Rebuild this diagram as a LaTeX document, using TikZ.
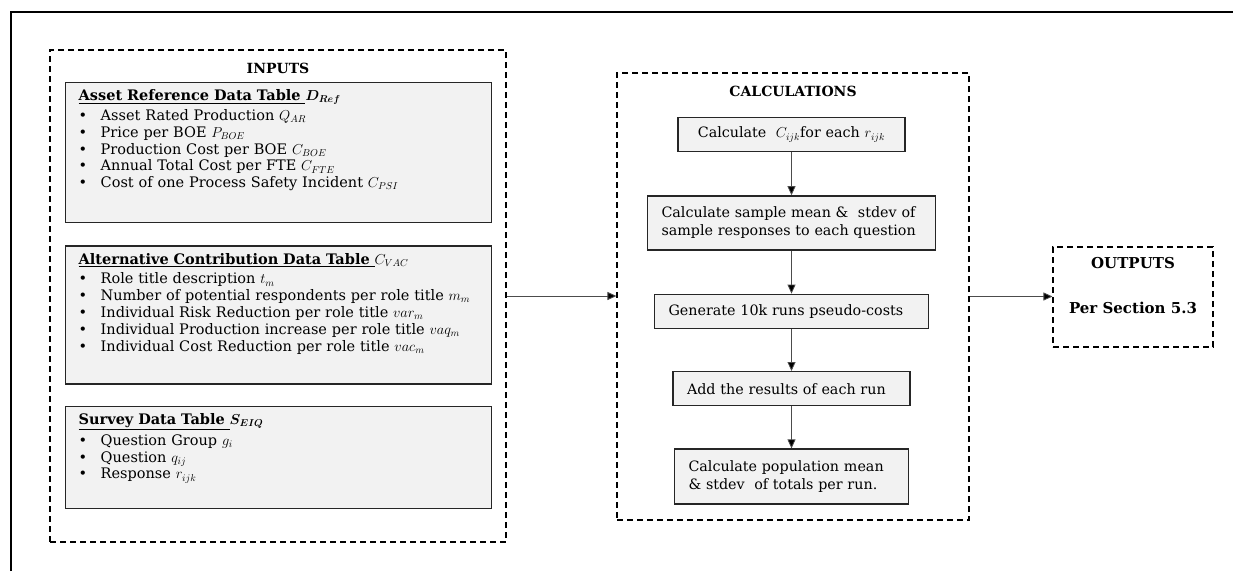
\documentclass[tikz,border=0pt]{standalone}
\usepackage{amsmath}
\usepackage{bm}
\usepackage{fontspec}
\setmainfont{DejaVu Serif}
\usetikzlibrary{arrows.meta, positioning}

\newcommand{\bul}{\makebox[22pt][l]{\textbullet}}

\begin{document}
\begin{tikzpicture}[
        x=1pt, y=-1pt,
        frame/.style={line width=1.8pt, draw=black},
        groupBox/.style={
            rectangle, draw=black, line width=1.1pt, dash pattern=on 6pt off 4pt,
            inner sep=0pt
        },
        groupTitle/.style={font=\fontsize{14}{16}\selectfont\bfseries},
        tableBox/.style={
            rectangle, draw=black!85, line width=1.4pt, fill=black!5,
            anchor=north west, text width=400pt, inner xsep=13pt, inner ysep=6pt,
            align=left, text height=12pt, font=\fontsize{14.5}{16.8}\selectfont
        },
        calcBox/.style={
            rectangle, draw=black!85, line width=1.4pt, fill=black!5,
            inner xsep=14pt, inner ysep=3pt, align=left, minimum height=34pt,
            font=\fontsize{14.3}{18}\selectfont
        },
        arrow/.style={
            draw=black!70, line width=0.8pt, -{Triangle[length=9pt, width=8pt, fill=black]}
        }
    ]
        \useasboundingbox (0,0) rectangle (1233,571);
        \draw [frame] (11,571) -- (11,12) -- (1233,12);

        % Inputs
        \node (inputs) [groupBox, minimum width=456pt, minimum height=492pt] at (278,296) {};
        \node (inputsTitle) [groupTitle] at (278,68) {INPUTS};

        \node (asset) [tableBox, text depth=116pt] at (65,82) {%
            \underline{\textbf{Asset Reference Data Table }}$\bm{D_{Ref}}$\\[3pt]
            \bul Asset Rated Production $Q_{AR}$\\
            \bul Price per BOE $P_{BOE}$\\
            \bul Production Cost per BOE $C_{BOE}$\\
            \bul Annual Total Cost per FTE $C_{FTE}$\\
            \bul Cost of one Process Safety Incident $C_{PSI}$};
        \node (altContrib) [tableBox, text depth=114pt, below=22pt of asset] {%
            \underline{\textbf{Alternative Contribution Data Table }}$C_{VAC}$\\[3pt]
            \bul Role title description $t_m$\\
            \bul Number of potential respondents per role title $m_m$\\
            \bul Individual Risk Reduction per role title $var_m$\\
            \bul Individual Production increase per role title $vaq_m$\\
            \bul Individual Cost Reduction per role title $vac_m$};
        \node (survey) [tableBox, text depth=78pt, below=21pt of altContrib] {%
            \underline{\textbf{Survey Data Table }}$\bm{S_{EIQ}}$\\[3pt]
            \bul Question Group $g_i$\\
            \bul Question $q_{ij}$\\
            \bul Response $r_{ijk}$};

        % Calculations
        \node (calc) [groupBox, minimum width=352pt, minimum height=447pt] at (793,296.5) {};
        \node (calcTitle) [groupTitle] at (793,91) {CALCULATIONS};

        \node (costs) [calcBox, text width=199pt, align=center] at (791.5,134.5) {Calculate\ \ $C_{ijk}$for each $r_{ijk}$};
        \node (sampleStats) [calcBox, text width=260pt, minimum height=54pt, below=43pt of costs] {Calculate sample mean \&\ \ stdev of\\sample responses to each question};
        \node (runs) [calcBox, text width=246pt, below=43pt of sampleStats] {Generate 10k runs pseudo-costs};
        \node (addRuns) [calcBox, text width=209pt, below=42pt of runs] {Add the results of each run};
        \node (popStats) [calcBox, text width=206pt, minimum height=55pt, below=42pt of addRuns] {Calculate population mean\\\& stdev\ \ of totals per run.};

        % Outputs
        \node (outputs) [groupBox, minimum width=160pt, minimum height=100pt] at (1133,297) {};
        \node (outputsText) [align=center, font=\fontsize{15}{18}\selectfont\bfseries] at (1133,285.5) {OUTPUTS\\[27pt]Per Section 5.3};

        % Connectors
        \draw [arrow] (inputs.east) -- (inputs.east -| calc.west);
        \draw [arrow] (calc.east) -- (calc.east -| outputs.west);
        \draw [arrow] (costs) -- (sampleStats);
        \draw [arrow] (sampleStats) -- (runs);
        \draw [arrow] (runs) -- (addRuns);
        \draw [arrow] (addRuns) -- (popStats);
    \end{tikzpicture}
\end{document}
